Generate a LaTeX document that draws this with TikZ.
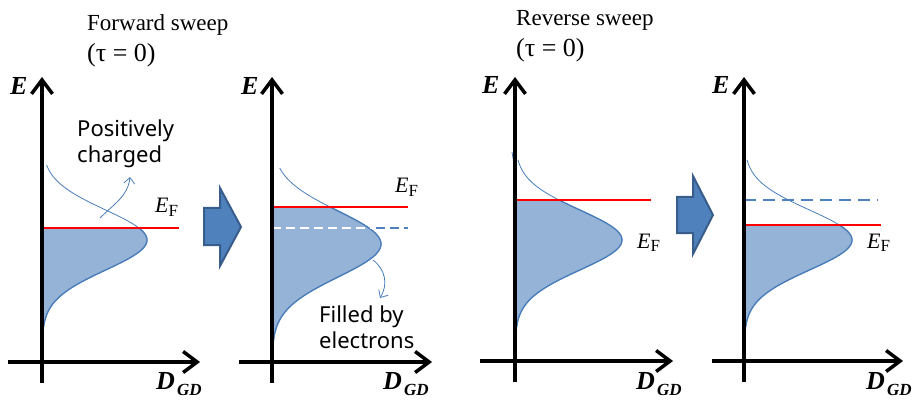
\documentclass[tikz,border=0pt]{standalone}
\usepackage{fontspec}
\setmainfont{Liberation Serif}
\newfontfamily\sansf{Noto Sans}
\usetikzlibrary{arrows.meta}
\definecolor{cblue}{HTML}{4A7EBB}
\definecolor{cfill}{HTML}{95B3D7}
\definecolor{bafill}{HTML}{4F81BD}
\definecolor{badraw}{HTML}{385D8A}
\definecolor{dblue}{HTML}{4F81BD}
\begin{document}
\begin{tikzpicture}[x=1pt,y=-1pt,
  declare function={g(\t,\a,\c,\s)=\a*exp(-(((\t-\c)/\s)^2)/2);},
  axis/.style={line width=3.5pt,-{Straight Barb[length=14pt,width=21pt,line width=3.5pt]}},
  curve/.style={cblue,line width=0.8pt},
  edge/.style={cblue,line width=1.3pt},
  fillreg/.style={fill=cfill},
  efline/.style={red,line width=2.8pt},
  oldlevel/.style={dblue,line width=2.2pt,dash pattern=on 9pt off 5pt},
  whitelevel/.style={white,line width=2.2pt,dash pattern=on 9pt off 5pt},
  bigarrow/.style={fill=bafill,draw=badraw,line width=2pt,line join=miter},
  thinarrow/.style={cblue,line width=0.8pt,-{Straight Barb[length=6pt,width=11pt]}},
  lbl/.style={inner sep=0pt,anchor=base west},
  title/.style={lbl,font=\fontsize{23}{28}\selectfont},
  titleb/.style={lbl,font=\fontsize{26}{30}\selectfont},
  ax/.style={lbl,font=\fontsize{26}{30}\selectfont\bfseries\itshape},
  sub/.style={lbl,font=\fontsize{17}{20}\selectfont\bfseries\itshape},
  ef/.style={lbl,font=\fontsize{22}{26}\selectfont},
  note/.style={lbl,font=\sansf\fontsize{22}{26}\selectfont}
]
\useasboundingbox (0,0) rectangle (919,401);

% ---------- Panel 1 ----------
\fill[fillreg] plot[domain=228:345,samples=80] ({42+g(\x,105,240,30)},\x) -- (42,345) -- (42,228) -- cycle;
\draw[curve] plot[domain=165:345,samples=100] ({42+g(\x,105,240,30)},\x);
\draw[edge] plot[domain=228:345,samples=80] ({42+g(\x,105,240,30)},\x);
\draw[efline] (42,228) -- (179,228);
\coordinate (p1s) at (100,218);
\coordinate (p1e) at (130,177);
\draw[thinarrow] (p1s) .. controls (114,204) and (128,196) .. (p1e);
\draw[axis] (42,383) -- (42,77);
\draw[axis] (8,362) -- (200,362);
\node[ax] (E1) at (10,95) {E};
\node[ax] (D1) at (156,389) {D};
\node[sub] (G1) at (177,395) {GD};
\node[ef] (F1) at (155,213) {\textit{E}\raisebox{-0.3ex}{\fontsize{17}{20}\selectfont F}};
\node[note] (pc1) at (77,137) {Positively};
\node[note] (pc2) at (77,163) {charged};
\node[title] (t1) at (87,31) {Forward sweep};
\node[titleb] (t1b) at (87,62) {(τ = 0)};

% big arrow 1
\draw[bigarrow] (204,208) -- (220,208) -- (220,188) -- (241,227) -- (220,266) -- (220,245) -- (204,245) -- cycle;

% ---------- Panel 2 ----------
\fill[fillreg] plot[domain=207:345,samples=80] ({272+g(\x,109,244,33)},\x) -- (272,345) -- (272,207) -- cycle;
\draw[curve] plot[domain=168:345,samples=100] ({272+g(\x,109,244,33)},\x);
\draw[edge] plot[domain=207:345,samples=80] ({272+g(\x,109,244,33)},\x);
\draw[efline] (272,207) -- (408,207);
\draw[whitelevel] (272,228) -- (372,228);
\draw[oldlevel] (376,228) -- (408,228);
\coordinate (p2s) at (373,260);
\coordinate (p2e) at (380,298);
\draw[thinarrow] (p2s) .. controls (386,270) and (388,285) .. (p2e);
\draw[axis] (272,383) -- (272,77);
\draw[axis] (239,362) -- (432,362);
\node[ax] (E2) at (241,95) {E};
\node[ax] (D2) at (383,389) {D};
\node[sub] (G2) at (404,395) {GD};
\node[ef] (F2) at (395,193) {\textit{E}\raisebox{-0.3ex}{\fontsize{17}{20}\selectfont F}};
\node[note] (fe1) at (319,322) {Filled by};
\node[note] (fe2) at (319,348) {electrons};

% ---------- Panel 3 ----------
\fill[fillreg] plot[domain=200:350,samples=80] ({515+g(\x,107,240,30)},\x) -- (515,350) -- (515,200) -- cycle;
\draw[curve] plot[domain=160:350,samples=100] ({515+g(\x,107,240,30)},\x);
\draw[edge] plot[domain=200:350,samples=80] ({515+g(\x,107,240,30)},\x);
\draw[curve] (512,152) -- (515,170);
\draw[efline] (515,200) -- (651,200);
\draw[axis] (515,382) -- (515,77);
\draw[axis] (480,361) -- (673,361);
\node[ax] (E3) at (482,94) {E};
\node[ax] (D3) at (636,389) {D};
\node[sub] (G3) at (657,395) {GD};
\node[ef] (F3) at (637,248) {\textit{E}\raisebox{-0.3ex}{\fontsize{17}{20}\selectfont F}};
\node[title] (t3) at (516,26) {Reverse sweep};
\node[titleb] (t3b) at (516,57) {(τ = 0)};

% big arrow 2
\draw[bigarrow] (677,197) -- (693,197) -- (693,176) -- (713,215) -- (693,254) -- (693,233) -- (677,233) -- cycle;

% ---------- Panel 4 ----------
\fill[fillreg] plot[domain=225:350,samples=80] ({744+g(\x,108,240,30)},\x) -- (744,350) -- (744,225) -- cycle;
\draw[curve] plot[domain=160:350,samples=100] ({744+g(\x,108,240,30)},\x);
\draw[edge] plot[domain=225:350,samples=80] ({744+g(\x,108,240,30)},\x);
\draw[curve] (743,152) -- (745,170);
\draw[efline] (744,225) -- (881,225);
\draw[oldlevel,dash pattern=on 12pt off 7pt] (744,200) -- (878,200);
\draw[axis] (744,382) -- (744,77);
\draw[axis] (712,361) -- (903,361);
\node[ax] (E4) at (712,94) {E};
\node[ax] (D4) at (866,389) {D};
\node[sub] (G4) at (887,395) {GD};
\node[ef] (F4) at (867,248) {\textit{E}\raisebox{-0.3ex}{\fontsize{17}{20}\selectfont F}};
\end{tikzpicture}
\end{document}
